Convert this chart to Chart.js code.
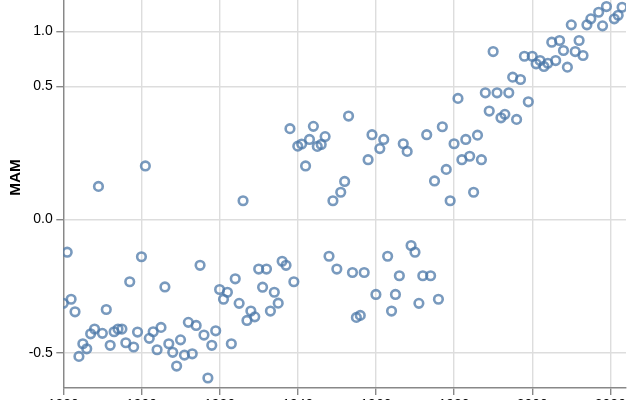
<!DOCTYPE html>
<html>
<head>
<meta charset="utf-8">
<script src="https://cdn.jsdelivr.net/npm/chart.js@4/dist/chart.umd.min.js"></script>
<style>
  html, body { margin: 0; padding: 0; background: #fff; overflow: hidden; width: 640px; height: 400px; }
  #wrap { position: absolute; left: 0; top: -40px; width: 640px; height: 480px; }
</style>
</head>
<body>
<div id="wrap"><canvas id="c" width="640" height="480"></canvas></div>
<script>
// ---- data ----
const years = [];
for (let y = 1880; y <= 2023; y++) years.push(y);

const mam = [
  -0.198, -0.030, -0.179, -0.240, -0.528, -0.435, -0.471, -0.368, -0.338, 0.031,   // 1880-1889
  -0.365, -0.228, -0.446, -0.355, -0.338, -0.338, -0.428, -0.109, -0.458, -0.357,  // 1890-1899
  -0.039, 0.081, -0.398, -0.355, -0.478, -0.328, -0.128, -0.435, -0.497, -0.605,   // 1900-1909
  -0.408, -0.518, -0.298, -0.508, -0.316, -0.059, -0.376, -0.708, -0.446, -0.349,  // 1910-1919
  -0.138, -0.179, -0.149, -0.435, -0.099, -0.198, 0.010, -0.287, -0.236, -0.267,   // 1920-1929
  -0.069, -0.129, -0.069, -0.236, -0.149, -0.197, -0.049, -0.059, 0.233, -0.109,   // 1930-1939
  0.152, 0.161, 0.081, 0.181, 0.245, 0.151, 0.159, 0.194, -0.038, 0.010,           // 1940-1949
  -0.069, 0.021, 0.041, 0.302, -0.079, -0.270, -0.259, -0.079, 0.101, 0.203,       // 1950-1959
  -0.158, 0.142, 0.181, -0.038, -0.236, -0.158, -0.089, 0.162, 0.131, -0.019,      // 1960-1969
  -0.030, -0.198, -0.089, 0.203, -0.089, 0.042, -0.179, 0.243, 0.071, 0.010,       // 1970-1979
  0.162, 0.414, 0.101, 0.181, 0.113, 0.021, 0.201, 0.101, 0.453, 0.332,            // 1980-1989
  0.796, 0.453, 0.292, 0.312, 0.453, 0.572, 0.283, 0.553, 0.752, 0.391,            // 1990-1999
  0.752, 0.684, 0.713, 0.661, 0.689, 0.887, 0.713, 0.904, 0.806, 0.655,            // 2000-2009
  1.069, 0.796, 0.904, 0.759, 1.069, 1.136, 1.55, 1.212, 1.058, 1.279,             // 2010-2019
  1.45, 1.136, 1.177, 1.271                                                       // 2020-2023
];

const xTicks = [1880, 1900, 1920, 1940, 1960, 1980, 2000, 2020];
const yTicks = [-0.5, 0.0, 0.5, 1.0, 1.5];
const yTickLabels = ['-0.5', '0.0', '0.5', '1.0', '1.5'];
const yDomain = [-0.8, 1.8];
const xDomain = [1880, 2024];

// signed square-root scale transform
const ssqrt = v => (v < 0 ? -Math.sqrt(-v) : Math.sqrt(v));

const points = years.map((yr, i) => ({ x: yr, y: ssqrt(mam[i]) }));

const FONT = "'Liberation Sans', Arial, Helvetica, sans-serif";

new Chart(document.getElementById('c'), {
  type: 'scatter',
  data: {
    datasets: [{
      data: points,
      pointStyle: 'circle',
      pointRadius: 4.3,
      pointHoverRadius: 4.3,
      borderWidth: 2.6,
      pointBorderWidth: 2.6,
      borderColor: 'rgba(76,120,168,0.75)',
      pointBorderColor: 'rgba(76,120,168,0.75)',
      backgroundColor: 'rgba(0,0,0,0)',
      pointBackgroundColor: 'rgba(0,0,0,0)'
    }]
  },
  options: {
    responsive: false,
    animation: false,
    devicePixelRatio: 1,
    layout: { padding: { top: 6.6, right: 14, left: 0, bottom: 0 } },
    plugins: { legend: { display: false }, tooltip: { enabled: false } },
    scales: {
      x: {
        type: 'linear',
        min: xDomain[0],
        max: xDomain[1],
        afterBuildTicks: s => { s.ticks = xTicks.map(v => ({ value: v })); },
        afterFit: s => { s.height = 52; s.paddingLeft = 0; s.paddingRight = 0; },
        grid: { color: '#ddd', lineWidth: 1.4, tickColor: '#888', tickLength: 7, tickWidth: 1.4, drawTicks: true },
        border: { display: true, color: '#888', width: 1.4 },
        ticks: {
          padding: 1.8,
          color: '#000',
          font: { family: FONT, size: 14 },
          maxRotation: 0,
          callback: v => String(v)
        }
      },
      y: {
        type: 'linear',
        min: ssqrt(yDomain[0]),
        max: ssqrt(yDomain[1]),
        afterBuildTicks: s => { s.ticks = yTicks.map(v => ({ value: ssqrt(v) })); },
        afterFit: s => { s.width = 63.3; s.paddingTop = 0; s.paddingBottom = 0; },
        grid: { color: '#ddd', lineWidth: 1.4, tickColor: '#888', tickLength: 7, tickWidth: 1.4, drawTicks: true },
        border: { display: true, color: '#888', width: 1.4 },
        ticks: {
          padding: 3.5,
          color: '#000',
          font: { family: FONT, size: 14 },
          callback: (v, i) => yTickLabels[i]
        },
        title: {
          display: true,
          text: 'MAM',
          color: '#000',
          font: { family: FONT, size: 15.4, weight: 'bold' },
          padding: { top: 6.5, bottom: 4 }
        }
      }
    }
  }
});
</script>
</body>
</html>
